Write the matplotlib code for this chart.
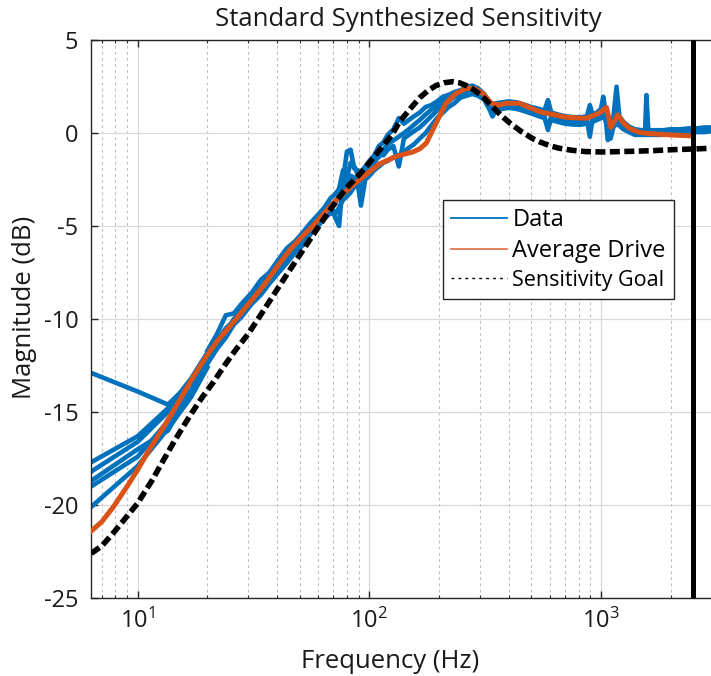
import matplotlib
matplotlib.use("Agg")
import matplotlib.pyplot as plt
from matplotlib.lines import Line2D
from matplotlib.ticker import LogLocator, NullFormatter

plt.rcParams['font.family'] = ['Open Sans', 'DejaVu Sans']
plt.rcParams['mathtext.fontset'] = 'custom'
plt.rcParams['mathtext.rm'] = 'Open Sans'
plt.rcParams['mathtext.it'] = 'Open Sans:italic'
plt.rcParams['mathtext.bf'] = 'Open Sans:bold'

# ---------------- data ----------------
title = "Standard Synthesized Sensitivity"
xlabel = "Frequency (Hz)"
ylabel = "Magnitude (dB)"
legend_labels = ["Data", "Average Drive", "Sensitivity Goal"]
yticks = [-25, -20, -15, -10, -5, 0, 5]
xlim = (6.285, 3264)
ylim = (-25, 5)
cutoff_freq = 2500

# Low-frequency portions of the individual measured runs
low_freq = [6.3, 10, 13.5, 17, 20]
run_a = [-12.9, -13.9, -14.6, -13.4, -12.0]
run_b = [-17.7, -16.3, -14.8, -13.2, -11.8]
run_c = [-18.2, -16.6, -15.0, -13.3, -12.0]
run_d = [-18.7, -17.0, -16.0, -13.9, -12.2]
run_e = [-19.0, -17.4, -15.5, -13.8, -12.3]
run_f = [-20.1, -17.9, -15.9, -14.2, -12.6]

# Measured runs above 20 Hz
band_freq = [20, 22, 24, 26, 28, 31, 34, 37, 40, 44,
             48, 52, 56, 60, 64, 68, 71, 74, 77, 80,
             83, 86, 89, 92, 96, 100, 105, 110, 115, 120,
             127, 134, 141, 148, 156, 165, 175, 185, 196, 208,
             220, 233, 247, 262, 278, 295, 313, 332, 340, 352,
             375, 400, 430, 460, 500, 540, 570, 590, 610, 650,
             700, 760, 820, 870, 895, 920, 960, 1000, 1023, 1045,
             1070, 1100, 1130, 1167, 1200, 1250, 1320, 1400, 1500, 1550,
             1571, 1600, 1700, 1850, 2000, 2200, 2400, 2600, 2800, 3000]
trace_1 = [-11.7, -10.8, -9.8, -9.7, -9.2, -8.6, -7.9, -7.5, -6.9, -6.2,
           -5.8, -5.3, -4.8, -4.4, -4.0, -3.5, -3.3, -3.0, -2.0, -2.4,
           -1.6, -1.8, -2.2, -2.1, -1.8, -1.5, -1.2, -0.7, -0.5, -0.1,
           0.2, 0.8, 0.5, 0.7, 0.9, 1.1, 1.4, 1.5, 1.7, 1.95,
           2.05, 2.2, 2.3, 2.45, 2.55, 2.4, 2.1, 1.6, 1.4, 1.6,
           1.65, 1.7, 1.65, 1.55, 1.4, 1.3, 1.2, 1.77, 1.1, 1.0,
           0.9, 0.85, 0.85, 0.9, 1.5, 1.0, 1.1, 1.3, 1.95, 1.2,
           0.9, 0.6, 0.8, 2.49, 0.9, 0.6, 0.35, 0.2, 0.15, 0.15,
           2.04, 0.15, 0.15, 0.15, 0.2, 0.2, 0.25, 0.25, 0.3, 0.3]
trace_2 = [-12.4, -11.6, -11.0, -10.3, -9.9, -9.2, -8.7, -8.1, -7.6, -7.0,
           -6.4, -6.0, -5.4, -5.0, -4.6, -4.3, -4.4, -4.0, -3.6, -3.4,
           -3.2, -2.9, -2.7, -3.9, -2.5, -2.3, -2.0, -1.8, -1.6, -1.5,
           -1.3, -1.2, -1.0, -0.8, -0.6, -0.3, 0.0, 0.4, 0.8, 1.1,
           1.4, 1.6, 1.9, 2.0, 2.1, 2.0, 1.8, 1.2, 0.9, 1.2,
           1.3, 1.35, 1.3, 1.2, 1.05, 0.9, 0.8, 0.3, 0.7, 0.6,
           0.5, 0.45, 0.45, 0.5, 0.3, 0.6, 0.7, 0.8, 0.9, 0.7,
           0.3, -0.3, 0.3, 0.5, 0.4, 0.2, 0.05, -0.1, -0.1, -0.1,
           -0.1, -0.1, -0.1, -0.1, -0.05, 0.0, 0.0, 0.05, 0.05, 0.1]
trace_3 = [-12.1, -11.2, -10.5, -10.1, -9.4, -8.8, -8.3, -7.7, -7.3, -6.6,
           -6.0, -5.7, -5.1, -4.6, -4.2, -3.8, -4.5, -5.0, -2.5, -1.0,
           -0.9, -1.9, -2.0, -3.0, -2.2, -2.0, -1.7, -1.1, -1.2, -0.9,
           -0.7, -1.8, -0.3, -0.1, 0.1, 0.3, 0.6, 0.9, 1.2, 1.5,
           1.7, 1.95, 2.1, 2.25, 2.35, 2.2, 1.9, 1.3, 0.9, 1.35,
           1.45, 1.5, 1.45, 1.35, 1.15, 1.0, 0.9, 0.16, 0.95, 0.8,
           0.7, 0.65, 0.6, 0.7, -0.2, 0.8, 0.85, 0.9, 1.0, 0.9,
           -0.38, 0.2, 0.4, 0.6, 0.5, 0.3, 0.1, 0.0, -0.05, 0.0,
           0.0, 0.0, 0.0, 0.05, 0.1, 0.1, 0.15, 0.15, 0.2, 0.2]
trace_4 = [-12.2, -11.4, -10.7, -10.0, -9.6, -9.0, -8.5, -7.9, -7.4, -6.8,
           -6.2, -5.8, -5.2, -4.8, -4.4, -4.0, -3.8, -3.4, -3.1, -2.6,
           -2.3, -2.4, -2.6, -2.6, -2.3, -1.8, -1.4, -1.3, -0.9, -0.6,
           -0.4, -0.2, 0.0, 0.2, 0.45, 0.7, 1.0, 1.25, 1.45, 1.75,
           1.9, 2.05, 2.2, 2.35, 2.4, 2.25, 1.95, 1.45, 1.1, 1.45,
           1.55, 1.6, 1.55, 1.45, 1.25, 1.15, 1.05, 1.3, 1.0, 0.9,
           0.8, 0.75, 0.7, 0.8, 0.9, 0.85, 0.95, 1.1, 1.3, 1.0,
           0.5, 0.1, 0.6, 1.2, 0.7, 0.45, 0.25, 0.1, 0.05, 0.05,
           0.3, 0.05, 0.05, 0.05, 0.1, 0.1, 0.15, 0.2, 0.25, 0.25]

# Average drive
avg_freq = [6.3, 7, 7.85, 9, 10, 11, 12.5, 14, 15.2, 17,
            19.8, 22, 25, 27, 30.5, 35, 41, 46, 52, 57,
            65, 72, 85, 94, 111, 131, 154, 165, 176, 194,
            214, 237, 262, 284, 309, 336, 365, 389, 445, 542,
            618, 700, 861, 981, 1056, 1104, 1181, 1250, 1325, 1450,
            1571, 1968, 2500]
avg_db = [-21.4, -20.9, -20.1, -19.0, -18.1, -17.2, -16.1, -15.1, -14.35, -13.3,
          -12.0, -11.2, -10.4, -9.9, -9.1, -8.2, -7.0, -6.2, -5.5, -5.0,
          -4.2, -3.6, -2.8, -2.35, -1.65, -1.25, -1.02, -0.85, -0.55, 0.52,
          1.6, 2.13, 2.4, 2.4, 2.13, 1.6, 1.5, 1.6, 1.6, 1.15,
          1.0, 0.85, 0.79, 1.06, 1.38, 0.3, 0.97, 0.55, 0.25, 0.05,
          -0.02, -0.1, -0.16]

# Sensitivity goal
goal_freq = [6.3, 7, 7.85, 9, 10, 11.5, 12.9, 14.5, 16.8, 19,
             21.2, 24, 26.7, 30, 34.7, 41, 48, 57, 67, 79,
             91, 100, 111, 125, 135, 150, 165, 180, 194, 210,
             229, 245, 262, 280, 299, 320, 341, 370, 403, 450,
             507, 542, 600, 660, 750, 861, 1000, 1200, 1400, 1672,
             2000, 2500, 3000, 3300]
goal_db = [-22.6, -22.2, -21.5, -20.6, -19.9, -18.7, -17.6, -16.5, -15.2, -14.2,
           -13.4, -12.4, -11.6, -10.8, -9.6, -8.2, -6.9, -5.5, -4.2, -3.0,
           -2.2, -1.6, -0.9, -0.1, 0.6, 1.3, 1.9, 2.3, 2.55, 2.7,
           2.76, 2.7, 2.55, 2.35, 2.1, 1.75, 1.4, 0.95, 0.55, 0.1,
           -0.3, -0.47, -0.68, -0.82, -0.93, -1.0, -1.02, -1.0, -0.98, -0.95,
           -0.9, -0.86, -0.82, -0.8]

# ---------------- styling ----------------
BLUE = '#0072BD'
ORANGE = '#D95319'
W, H = 711, 676

fig = plt.figure(figsize=(W / 100, H / 100), dpi=100)
ax = fig.add_axes([91 / W, 1 - 598 / H, (720 - 91) / W, (598 - 40) / H])

for run in (run_a, run_b, run_c, run_d, run_e, run_f):
    ax.semilogx(low_freq, run, color=BLUE, lw=3.3, solid_joinstyle='miter', zorder=2)
for tr in (trace_1, trace_2, trace_3, trace_4):
    ax.semilogx(band_freq, tr, color=BLUE, lw=3.3, zorder=2)
ax.semilogx(avg_freq, avg_db, color=ORANGE, lw=3.6, zorder=3)
goal_line, = ax.semilogx(goal_freq, goal_db, color='black', lw=4.0, zorder=4)
goal_line.set_dashes((1.8, 0.8))
ax.axvline(cutoff_freq, color='black', lw=3.6, zorder=5)

ax.set_xscale('log')
ax.set_xlim(*xlim)
ax.set_ylim(*ylim)
ax.set_yticks(yticks)
ax.set_yticklabels([str(v) for v in yticks])
ax.xaxis.set_minor_locator(LogLocator(base=10, subs=[2, 3, 4, 5, 6, 7, 8, 9], numticks=20))
ax.xaxis.set_minor_formatter(NullFormatter())

ax.grid(True, which='major', color='#d9d9d9', lw=0.9, ls='-', zorder=0)
ax.grid(True, which='minor', axis='x', color='#bdbdbd', lw=0.8, ls=(0, (2.5, 3)), zorder=0)
ax.set_axisbelow(True)

for s in ax.spines.values():
    s.set_color('#262626')
    s.set_linewidth(1.0)
ax.tick_params(which='major', direction='in', length=5, width=1.0, color='#262626',
               labelsize=17, labelcolor='#1a1a1a', top=True, right=True, pad=9)
ax.tick_params(which='minor', direction='in', length=2.5, width=0.8, color='#262626',
               top=True, right=True)
ax.tick_params(axis='x', which='major', pad=8)

fig.text(408.5 / W, 1 - 26 / H, title, ha='center', va='baseline', fontsize=18.5, color='#1a1a1a')
fig.text(390 / W, 1 - 668 / H, xlabel, ha='center', va='baseline', fontsize=18.5, color='#1a1a1a')
fig.text(25 / W, 1 - 307 / H, ylabel, ha='center', va='center', rotation=90, fontsize=18.5, color='#1a1a1a')

handles = [Line2D([], [], color=BLUE, lw=1.3),
           Line2D([], [], color='#E07A50', lw=1.3),
           Line2D([], [], color='black', lw=1.0, ls=(0, (2, 3)))]
leg = ax.legend(handles, legend_labels, loc='upper left',
                bbox_to_anchor=(443 / W, 1 - 200 / H), bbox_transform=fig.transFigure,
                fontsize=17, frameon=True, fancybox=False, framealpha=1,
                edgecolor='#262626', borderpad=0.35, handlelength=2.37,
                handletextpad=0.22, labelspacing=0.28, borderaxespad=0)
leg.get_frame().set_linewidth(1.0)
leg.get_texts()[2].set_fontsize(15.5)
leg.set_zorder(10)

fig.savefig('out.png', dpi=100)
